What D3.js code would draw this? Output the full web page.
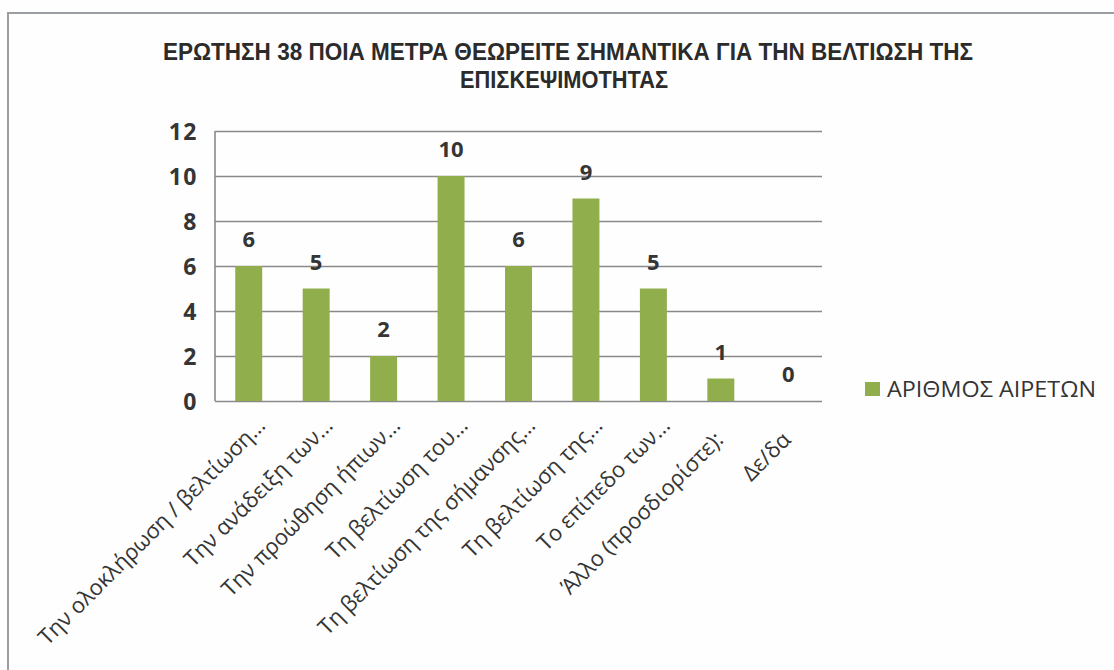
<!DOCTYPE html>
<html>
<head>
<meta charset="utf-8">
<script src="https://cdn.jsdelivr.net/npm/d3@7"></script>
<style>
  html, body { margin: 0; padding: 0; background: #fefefe; }
  svg { display: block; }
</style>
</head>
<body>
<svg id="chart" width="1114" height="670"></svg>
<script>
// Survey question 38: which measures are considered important for improving visitability
const titleLines = [
  "ΕΡΩΤΗΣΗ 38 ΠΟΙΑ ΜΕΤΡΑ ΘΕΩΡΕΙΤΕ ΣΗΜΑΝΤΙΚΑ ΓΙΑ ΤΗΝ ΒΕΛΤΙΩΣΗ ΤΗΣ",
  "ΕΠΙΣΚΕΨΙΜΟΤΗΤΑΣ"
];
const categories = [
  "Την ολοκλήρωση / βελτίωση…",
  "Την ανάδειξη των…",
  "Την προώθηση ήπιων…",
  "Τη βελτίωση του…",
  "Τη βελτίωση της σήμανσης…",
  "Τη βελτίωση της…",
  "Το επίπεδο των…",
  "Άλλο (προσδιορίστε):",
  "Δε/δα"
];
const values = [6, 5, 2, 10, 6, 9, 5, 1, 0];
const seriesName = "ΑΡΙΘΜΟΣ ΑΙΡΕΤΩΝ";
const yTicks = [0, 2, 4, 6, 8, 10, 12];

const svg = d3.select("#chart");
const W = 1114, H = 670;
const plot = { left: 215, right: 822, top: 131, bottom: 401 };
const barColor = "#91ae4d";
const textColor = "#353535";
const gridColor = "#8a8a8a";

svg.append("rect").attr("width", W).attr("height", H).attr("fill", "#fefefe");

// outer frame of the chart object
svg.append("path")
  .attr("d", `M8,${H} V13 H${W}`)
  .attr("fill", "none")
  .attr("stroke", "#9a9ea3")
  .attr("stroke-width", 2);

const x = d3.scaleBand()
  .domain(categories)
  .range([plot.left, plot.right])
  .paddingInner(0.6)
  .paddingOuter(0.3);

const y = d3.scaleLinear()
  .domain([0, 12])
  .range([plot.bottom, plot.top]);

// title, two centred lines in a condensed bold face
const title = svg.append("g")
  .attr("font-family", "'Liberation Sans', Arial, sans-serif")
  .attr("font-weight", "bold")
  .attr("font-size", 23.5)
  .attr("fill", "#2b2b2b")
  .attr("text-anchor", "middle");
const titleWidths = [810, 208];
const titleY = [60, 87.5];
const titleX = [568, 564];
titleLines.forEach((t, i) => {
  title.append("text")
    .attr("x", titleX[i]).attr("y", titleY[i])
    .attr("textLength", titleWidths[i])
    .attr("lengthAdjust", "spacingAndGlyphs")
    .text(t);
});

// gridlines and value axis
const yAxis = d3.axisLeft(y)
  .tickValues(yTicks)
  .tickSize(-(plot.right - plot.left))
  .tickPadding(17)
  .tickFormat(d3.format("d"));

const gy = svg.append("g")
  .attr("transform", `translate(${plot.left},0)`)
  .call(yAxis);
gy.select(".domain").remove();
gy.selectAll(".tick line")
  .attr("stroke", gridColor)
  .attr("stroke-width", 1.6);
gy.selectAll(".tick text")
  .attr("fill", textColor)
  .attr("font-family", "'Open Sans', sans-serif")
  .attr("font-weight", "bold")
  .attr("font-size", 23)
  .attr("letter-spacing", 1.5)
  .attr("dy", "0.36em");

svg.append("line")
  .attr("x1", plot.left).attr("x2", plot.left)
  .attr("y1", plot.top).attr("y2", plot.bottom)
  .attr("stroke", gridColor)
  .attr("stroke-width", 1.6);

// bars
svg.append("g").selectAll("rect")
  .data(values)
  .join("rect")
  .attr("x", (d, i) => x(categories[i]))
  .attr("width", x.bandwidth())
  .attr("y", d => y(d))
  .attr("height", d => y(0) - y(d))
  .attr("fill", barColor);

// value labels
svg.append("g").selectAll("text")
  .data(values)
  .join("text")
  .attr("x", (d, i) => x(categories[i]) + x.bandwidth() / 2)
  .attr("y", d => y(d) - 19)
  .attr("text-anchor", "middle")
  .attr("font-family", "'Open Sans', sans-serif")
  .attr("font-weight", "bold")
  .attr("font-size", 22)
  .attr("fill", textColor)
  .text(d => d);

// category labels, rotated; labels that were not shortened keep a small trailing gap
const gx = svg.append("g")
  .attr("transform", `translate(0,${plot.bottom})`)
  .call(d3.axisBottom(x).tickSize(0).tickPadding(0));
gx.select(".domain").remove();
gx.selectAll(".tick text")
  .attr("fill", textColor)
  .attr("font-family", "'Open Sans', sans-serif")
  .attr("font-weight", 500)
  .attr("font-size", 22)
  .attr("text-anchor", "end")
  .attr("y", 0)
  .attr("dy", 0)
  .attr("dx", d => d.endsWith("…") ? 0 : -20)
  .attr("transform", "translate(18,26) rotate(-45)");

// legend
const legend = svg.append("g").attr("transform", "translate(865,382)");
legend.append("rect")
  .attr("width", 15).attr("height", 14)
  .attr("fill", barColor);
legend.append("text")
  .attr("x", 22).attr("y", 15)
  .attr("font-family", "'Open Sans', sans-serif")
  .attr("font-weight", 500)
  .attr("font-size", 21.5)
  .attr("fill", textColor)
  .attr("textLength", 209)
  .attr("lengthAdjust", "spacingAndGlyphs")
  .text(seriesName);
</script>
</body>
</html>
